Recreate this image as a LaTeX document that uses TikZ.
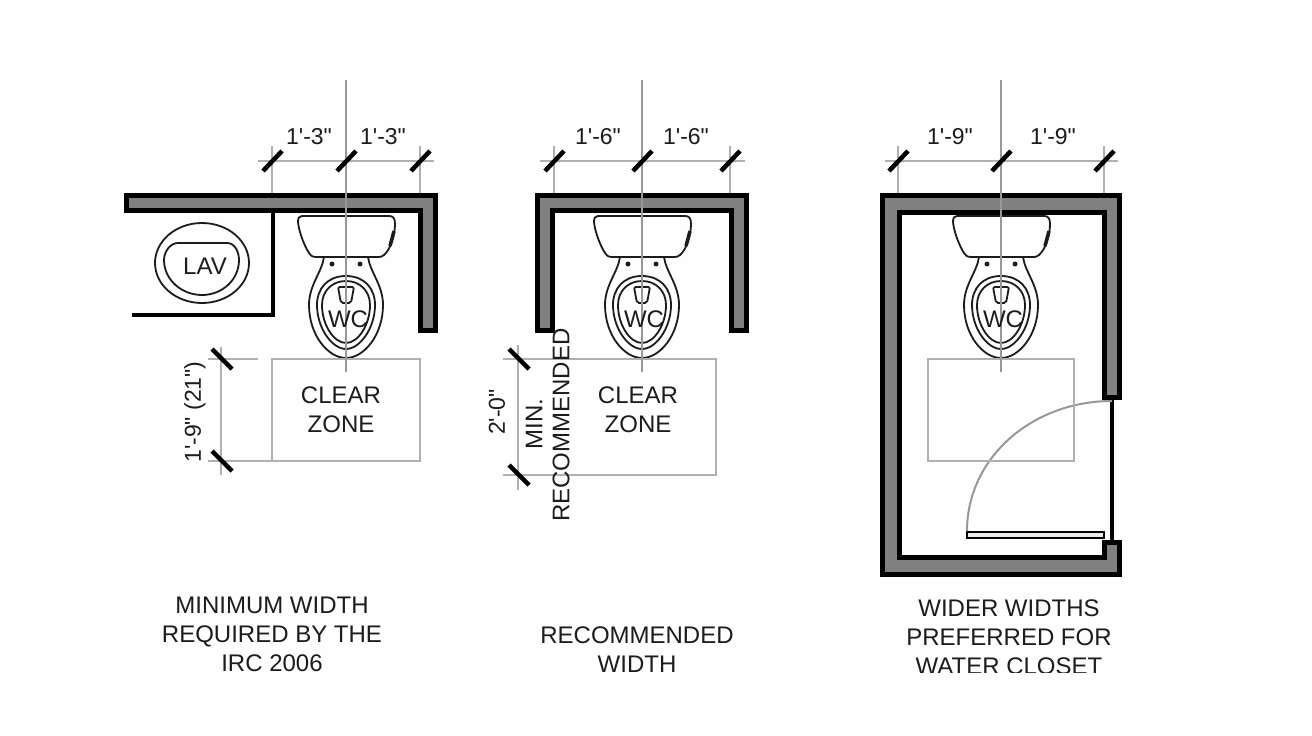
\documentclass[tikz,border=0pt]{standalone}
\usepackage{fontspec}
\newfontfamily\planfont{Liberation Sans}
\definecolor{wallgray}{HTML}{808080}
\definecolor{thingray}{HTML}{B0B0B0}
\definecolor{axisgray}{HTML}{989898}
\definecolor{inkdark}{HTML}{1C1C1C}
\definecolor{panelwhite}{HTML}{FDFEFD}
\tikzset{
  wall/.style={draw=black,fill=wallgray,line width=5pt,line join=miter},
  partition/.style={draw=black,line width=3.5pt},
  fixture/.style={draw=inkdark,line width=1.8pt},
  thinline/.style={draw=thingray,line width=1.2pt},
  axisline/.style={draw=axisgray,line width=2pt},
  dimtick/.style={draw=black,line width=4.5pt},
  planlabel/.style={font=\planfont\fontsize{24}{29}\selectfont,text=inkdark,align=center,inner sep=0pt},
  dimlabel/.style={font=\planfont\fontsize{23}{28}\selectfont,text=inkdark,align=center,inner sep=0pt},
  wcfixture/.pic={
    \draw[fixture] (-44,216) -- (43,216) .. controls (47,216) and (49,218) .. (49,224) .. controls (49,236) and (44,250) .. (38,255) .. controls (36,257) and (34,257) .. (32,257) -- (-30,257) .. controls (-34,257) and (-36,255) .. (-37,253) .. controls (-42,245) and (-47,232) .. (-48,222) .. controls (-48,218) and (-47,216) .. (-44,216) -- cycle;
    \draw[draw=inkdark,line width=3.5pt] (48,231) -- (44,246);
    \draw[fixture] (-22,257) .. controls (-24,272) and (-37,285) .. (-37,305) .. controls (-37,335) and (-18,358) .. (0,358) .. controls (18,358) and (37,335) .. (37,305) .. controls (37,285) and (24,272) .. (22,257);
    \draw[fixture] (0,276) .. controls (-18,276) and (-29,288) .. (-29,305) .. controls (-29,328) and (-14,349) .. (0,349) .. controls (14,349) and (29,328) .. (29,305) .. controls (29,288) and (18,276) .. (0,276) -- cycle;
    \draw[fixture] (0,281) .. controls (-14,281) and (-24,291) .. (-24,305) .. controls (-24,325) and (-12,343) .. (0,343) .. controls (12,343) and (24,325) .. (24,305) .. controls (24,291) and (14,281) .. (0,281) -- cycle;
    \draw[fixture,rounded corners=2pt] (-8,287) -- (8,287) -- (5,303) -- (-5,303) -- cycle;
    \fill[inkdark] (-14,264) circle (2.5) (14,264) circle (2.5);
  }
}
\begin{document}
\begin{tikzpicture}[x=1pt,y=-1pt]
\useasboundingbox (0,0) rectangle (1312,736);
\fill[fill=white] (0,0) rectangle (1312,736);
\fill[fill=panelwhite] (122,80) rectangle (1122,672);

% minimum width
\draw[wall] (126,195.5) -- (435.5,195.5) -- (435.5,330.5) -- (420.5,330.5) -- (420.5,210.5) -- (126,210.5) -- cycle;
\draw[partition] (273,213) -- (273,315) -- (132,315);
\draw[fixture] (202,263) ellipse (47 and 40);
\draw[fixture] (178,243) -- (227,243) .. controls (235,243) and (239,252) .. (239,260) .. controls (239,280) and (222,295) .. (202,295) .. controls (182,295) and (164,280) .. (164,260) .. controls (164,252) and (170,243) .. (178,243) -- cycle;
\node[planlabel] (lavtext) at (205,266) {LAV};
\pic at (346,0) {wcfixture};
\draw[thinline] (258,161) -- (434,161) (272,146) -- (272,193) (420,146) -- (420,193);
\draw[thinline] (272,359) rectangle (420,461);
\draw[thinline] (208,359) -- (258,359) (208,461) -- (272,461) (221,347) -- (221,475);
\draw[axisline] (346,80) -- (346,372);
\foreach \tx in {272,346,420}
  \draw[dimtick] (\tx-9,171) -- (\tx+10,151);
\foreach \ty in {359,461}
  \draw[dimtick] (212,\ty-10) -- (232,\ty+10);
\node[dimlabel] (dimaleft) at (309,137) {1'-3"};
\node[dimlabel] (dimaright) at (383,137) {1'-3"};
\node[dimlabel,rotate=90] (dimadepth) at (195,412) {1'-9" (21")};
\node[planlabel] (wca) at (348,319) {WC};
\node[planlabel] (cleara) at (341,410) {CLEAR\\ZONE};
\node[planlabel] (capa) at (272,634) {MINIMUM WIDTH\\REQUIRED BY THE\\IRC 2006};

% recommended width
\draw[wall] (537.5,330.5) -- (537.5,195.5) -- (746.5,195.5) -- (746.5,330.5) -- (731.5,330.5) -- (731.5,210.5) -- (552.5,210.5) -- (552.5,330.5) -- cycle;
\pic at (642,0) {wcfixture};
\draw[thinline] (540,161) -- (745,161) (554,146) -- (554,193) (730,146) -- (730,193);
\draw[thinline] (503,359) -- (716,359) -- (716,475) -- (503,475) (518,345) -- (518,490);
\draw[axisline] (642,80) -- (642,372);
\foreach \tx in {554,642,730}
  \draw[dimtick] (\tx-9,171) -- (\tx+10,151);
\foreach \ty in {359,475}
  \draw[dimtick] (509,\ty-10) -- (529,\ty+10);
\node[dimlabel] (dimbleft) at (598,137) {1'-6"};
\node[dimlabel] (dimbright) at (686,137) {1'-6"};
\node[dimlabel,rotate=90] (dimbdepth) at (497,412) {2'-0"};
\node[planlabel,rotate=90] (minb) at (534,424) {MIN.};
\node[planlabel,rotate=90] (recb) at (561,425) {RECOMMENDED};
\node[planlabel] (wcb) at (644,319) {WC};
\node[planlabel] (clearb) at (638,410) {CLEAR\\ZONE};
\node[planlabel] (capb) at (637,650) {RECOMMENDED\\WIDTH};

% wider widths
\draw[wall] (1119.5,397) -- (1119.5,195.5) -- (882.5,195.5) -- (882.5,574.5) -- (1119.5,574.5) -- (1119.5,542) -- (1104,542) -- (1104,557.5) -- (899,557.5) -- (899,212.5) -- (1104,212.5) -- (1104,397) -- cycle;
\draw[partition] (1112,397) -- (1112,542);
\draw[draw=black,fill=black!8,line width=2.5pt] (967,532) rectangle (1104,538);
\draw[axisline] (967,531) .. controls (967,458) and (1032,401) .. (1112,401);
\pic at (1001,0) {wcfixture};
\draw[thinline] (885,161) -- (1118,161) (898,146) -- (898,193) (1104,146) -- (1104,193);
\draw[thinline] (928,359) rectangle (1074,461);
\draw[axisline] (1001,80) -- (1001,372);
\foreach \tx in {898,1001,1104}
  \draw[dimtick] (\tx-9,171) -- (\tx+10,151);
\node[dimlabel] (dimcleft) at (950,137) {1'-9"};
\node[dimlabel] (dimcright) at (1053,137) {1'-9"};
\node[planlabel] (wcc) at (1003,319) {WC};
\node[planlabel] (capc) at (1009,637) {WIDER WIDTHS\\PREFERRED FOR\\WATER CLOSET};

% picture edge cuts the last line
\fill[fill=white] (0,673) rectangle (1312,736);
\end{tikzpicture}
\end{document}
